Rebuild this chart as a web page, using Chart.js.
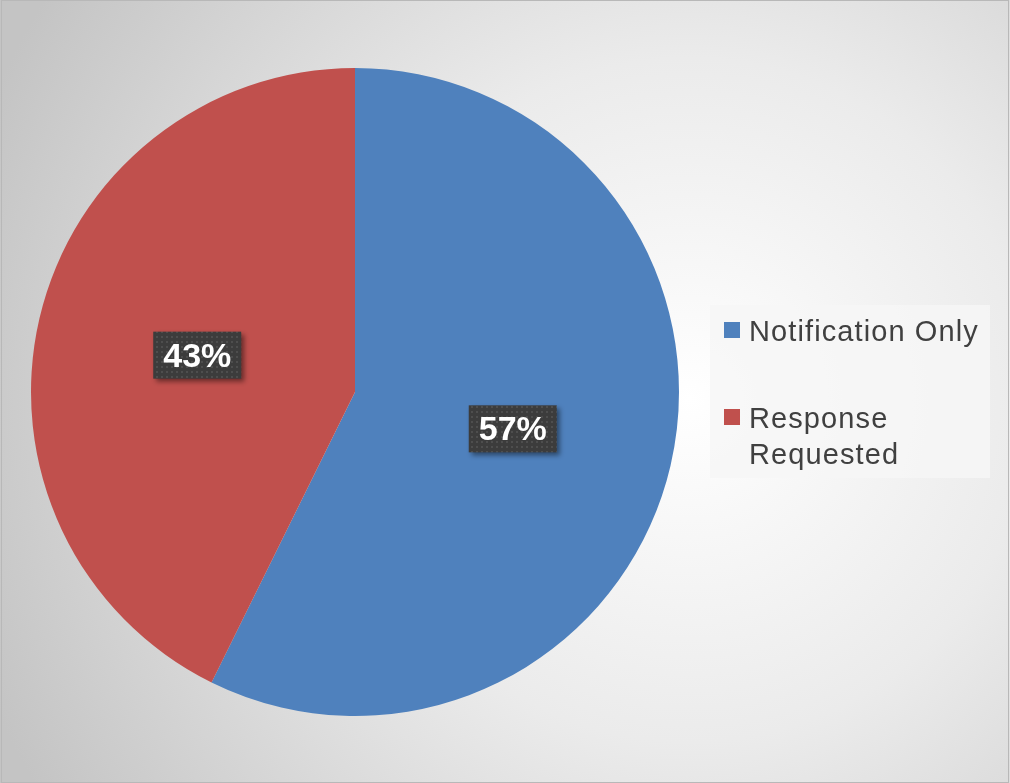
<!DOCTYPE html>
<html>
<head>
<meta charset="utf-8">
<script src="https://cdn.jsdelivr.net/npm/chart.js@4"></script>
<style>
  body { margin: 0; background: #fff; }
  canvas { display: block; }
</style>
</head>
<body>
<canvas id="pieChart" width="1010" height="783"></canvas>
<script>
const categories = ['Notification Only', 'Response Requested'];
const shares = [57.3, 42.7];
const sliceColors = ['#4F81BD', '#C0504D'];
// legend lines (second label wraps in the original)
const legendLines = [['Notification Only'], ['Response', 'Requested']];

// background: soft radial gradient with thin frame
const backdrop = {
    id: 'backdrop',
    beforeDraw(chart) {
        const ctx = chart.ctx;
        const w = chart.width, h = chart.height;
        ctx.save();
        const g = ctx.createRadialGradient(690, 400, 0, 690, 400, 760);
        g.addColorStop(0, '#ffffff');
        g.addColorStop(0.45, '#ebebeb');
        g.addColorStop(1, '#c4c4c4');
        ctx.fillStyle = g;
        ctx.fillRect(0, 0, w, h);
        ctx.strokeStyle = '#b8b8b8';
        ctx.lineWidth = 1;
        ctx.strokeRect(1.5, 0.5, w - 3, h - 1);
        ctx.restore();
    }
};

function dotPattern(ctx) {
    const c = document.createElement('canvas');
    c.width = 5; c.height = 5;
    const p = c.getContext('2d');
    p.fillStyle = '#3c3c3c';
    p.fillRect(0, 0, 5, 5);
    p.fillStyle = '#4e4e4e';
    p.fillRect(1, 1, 2, 2);
    return ctx.createPattern(c, 'repeat');
}

// percentage labels in dark boxes
const pctLabels = {
    id: 'pctLabels',
    afterDatasetsDraw(chart) {
        const ctx = chart.ctx;
        const meta = chart.getDatasetMeta(0);
        const data = chart.data.datasets[0].data;
        const total = data.reduce((a, b) => a + b, 0);
        const pattern = dotPattern(ctx);
        ctx.save();
        ctx.font = 'bold 34px "Liberation Sans", Arial, sans-serif';
        meta.data.forEach((arc, i) => {
            const pos = arc.tooltipPosition();
            const txt = Math.round(data[i] / total * 100) + '%';
            const bw = 88, bh = 47;
            const x = pos.x - bw / 2, y = pos.y - bh / 2;
            ctx.save();
            ctx.shadowColor = 'rgba(0,0,0,0.45)';
            ctx.shadowBlur = 5;
            ctx.shadowOffsetX = 3;
            ctx.shadowOffsetY = 3;
            ctx.fillStyle = pattern;
            ctx.fillRect(x, y, bw, bh);
            ctx.restore();
            ctx.fillStyle = '#ffffff';
            ctx.textAlign = 'center';
            ctx.textBaseline = 'middle';
            ctx.fillText(txt, pos.x, pos.y + 2);
        });
        ctx.restore();
    }
};

// legend box on the right
const sideLegend = {
    id: 'sideLegend',
    afterDraw(chart) {
        const ctx = chart.ctx;
        const colors = chart.data.datasets[0].backgroundColor;
        ctx.save();
        ctx.fillStyle = 'rgba(246,246,246,0.8)';
        ctx.fillRect(710, 305, 280, 173);
        ctx.font = '29px "Liberation Sans", Arial, sans-serif';
        ctx.letterSpacing = '1.1px';
        ctx.textBaseline = 'alphabetic';
        ctx.textAlign = 'left';
        const tops = [322, 409];
        legendLines.forEach((lines, i) => {
            ctx.fillStyle = colors[i];
            ctx.fillRect(724, tops[i], 16, 16);
            ctx.fillStyle = '#404040';
            lines.forEach((ln, j) => {
                ctx.fillText(ln, 749, tops[i] + 19 + j * 36);
            });
        });
        ctx.restore();
    }
};

new Chart(document.getElementById('pieChart'), {
    type: 'pie',
    data: {
        labels: categories,
        datasets: [{
            data: shares,
            backgroundColor: sliceColors,
            borderWidth: 0
        }]
    },
    options: {
        responsive: false,
        animation: false,
        layout: { padding: { left: 31, top: 68, right: 331, bottom: 67 } },
        plugins: {
            legend: { display: false },
            tooltip: { enabled: false }
        }
    },
    plugins: [backdrop, pctLabels, sideLegend]
});
</script>
</body>
</html>
